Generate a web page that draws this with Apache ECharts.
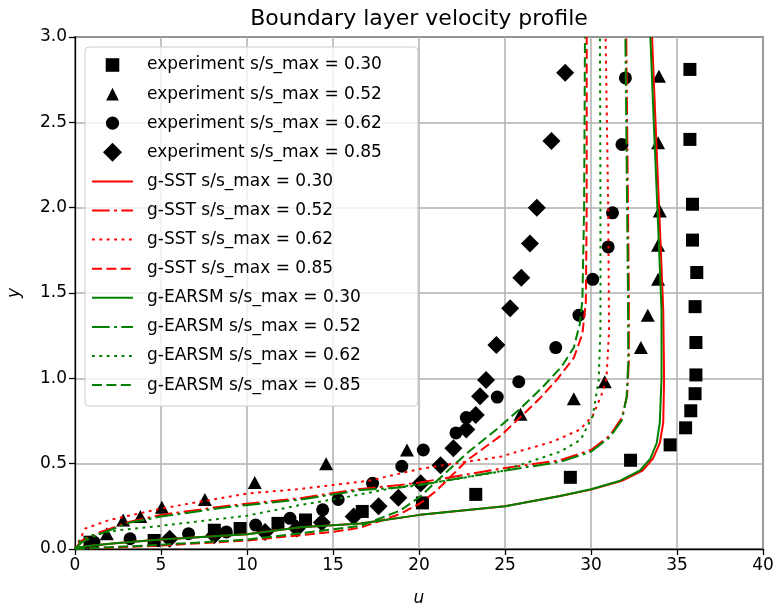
<!DOCTYPE html>
<html>
<head>
<meta charset="utf-8">
<script src="https://cdn.jsdelivr.net/npm/echarts@6/dist/echarts.min.js"></script>
<style>
  html, body { margin: 0; padding: 0; background: #fff; }
  #chart { width: 776px; height: 608px; }
</style>
</head>
<body>
<div id="chart"></div>
<script>
// Axis ticks
const xTicks = [0, 5, 10, 15, 20, 25, 30, 35, 40];
const yTicks = [0.0, 0.5, 1.0, 1.5, 2.0, 2.5, 3.0];

// Measured profiles, [u, y]
const exp030 = [[0.87,0.04],[4.6,0.05],[8.1,0.11],[9.6,0.12],[11.8,0.15],[13.4,0.17],[16.7,0.22],[20.2,0.27],[23.3,0.32],[28.8,0.42],[32.3,0.52],[34.6,0.61],[35.5,0.71],[35.8,0.81],[36.05,0.91],[36.1,1.02],[36.1,1.21],[36.05,1.42],[36.15,1.62],[35.9,1.81],[35.9,2.02],[35.75,2.40],[35.75,2.81]];
const exp052 = [[1.85,0.09],[2.8,0.17],[3.8,0.19],[5.05,0.245],[7.55,0.29],[10.45,0.39],[14.6,0.50],[19.3,0.58],[25.9,0.79],[29.0,0.88],[30.8,0.98],[32.9,1.18],[33.3,1.37],[33.9,1.58],[33.9,1.78],[34.0,1.98],[33.9,2.38],[33.95,2.77]];
const exp062 = [[1.1,0.04],[3.2,0.06],[6.6,0.09],[8.8,0.10],[10.5,0.14],[12.5,0.18],[14.4,0.23],[15.3,0.29],[17.3,0.385],[19.0,0.485],[20.25,0.58],[22.15,0.68],[22.75,0.77],[24.55,0.89],[25.8,0.98],[27.95,1.18],[29.3,1.37],[30.1,1.58],[31.0,1.77],[31.25,1.97],[31.8,2.37],[32.0,2.76]];
const exp085 = [[5.5,0.06],[8.1,0.08],[11.05,0.10],[12.9,0.12],[14.35,0.155],[16.2,0.19],[17.65,0.25],[18.8,0.30],[20.1,0.385],[21.25,0.49],[22.0,0.59],[22.75,0.70],[23.3,0.785],[23.55,0.895],[23.9,0.99],[24.5,1.195],[25.3,1.41],[25.95,1.59],[26.45,1.79],[26.85,2.0],[27.7,2.39],[28.5,2.79]];

// g-SST model profiles, [u, y]
const sst030 = [[0,0],[0.3,0.01],[1,0.02],[2.5,0.035],[5,0.055],[10,0.087],[13.1,0.128],[16.6,0.15],[20.06,0.2],[25.0,0.25],[28.2,0.31],[30.0,0.348],[31.8,0.40],[33.0,0.46],[33.6,0.53],[34.0,0.62],[34.2,0.74],[34.25,1.0],[34.2,1.4],[34.0,1.9],[33.75,2.5],[33.55,3.0]];
const sst052 = [[0,0],[0.4,0.05],[1.5,0.1],[3.2,0.16],[5,0.2],[8.8,0.252],[13.1,0.298],[16.6,0.352],[18.9,0.375],[20.06,0.39],[24.7,0.47],[28.2,0.52],[30.0,0.58],[31.1,0.665],[31.8,0.77],[32.1,0.9],[32.2,1.1],[32.2,1.5],[32.15,2.0],[32.1,2.5],[32.05,3.0]];
const sst062 = [[0,0],[0.3,0.06],[0.6,0.12],[2,0.17],[5,0.237],[10,0.325],[13.1,0.352],[17.1,0.40],[19,0.445],[20.1,0.47],[22,0.50],[24.7,0.54],[27.8,0.63],[29.36,0.70],[30.1,0.78],[30.6,0.90],[30.9,1.0],[31.05,1.28],[31.0,2.0],[30.85,3.0]];
const sst085 = [[0,0],[2,0.008],[5,0.02],[10,0.05],[15,0.1],[16.6,0.125],[18.9,0.205],[20.06,0.267],[21.0,0.34],[21.8,0.42],[22.8,0.52],[24.7,0.66],[25.87,0.77],[27.0,0.88],[28.0,0.99],[29.0,1.12],[29.5,1.26],[29.7,1.45],[29.75,2.0],[29.75,3.0]];

// g-EARSM model profiles, [u, y]
const earsm030 = [[0,0],[0.3,0.01],[1,0.02],[2.5,0.035],[5,0.055],[10,0.087],[13.1,0.128],[16.6,0.15],[20.06,0.2],[25.0,0.25],[28.2,0.31],[30.0,0.35],[31.7,0.40],[32.85,0.46],[33.45,0.53],[33.82,0.62],[34.0,0.74],[34.1,1.0],[34.1,1.4],[33.9,1.9],[33.65,2.5],[33.45,3.0]];
const earsm052 = [[0,0],[0.4,0.04],[1.5,0.09],[3.2,0.155],[5,0.19],[8.8,0.245],[13.1,0.29],[16.6,0.345],[18.9,0.36],[20.06,0.375],[24.7,0.455],[28.2,0.51],[30.0,0.57],[31.1,0.655],[31.8,0.755],[32.07,0.89],[32.17,1.1],[32.15,1.5],[32.1,2.0],[32.05,2.5],[32.0,3.0]];
const earsm062 = [[0,0],[0.3,0.05],[1,0.08],[2.5,0.11],[4.9,0.135],[10,0.195],[13.1,0.258],[15.4,0.297],[18.9,0.365],[21.2,0.394],[24.7,0.453],[28.2,0.57],[29.4,0.64],[30.1,0.78],[30.45,0.99],[30.55,1.3],[30.55,2.0],[30.52,3.0]];
const earsm085 = [[0,0],[2,0.01],[5,0.025],[10,0.055],[15,0.115],[16.6,0.135],[18.9,0.225],[20.06,0.306],[21.0,0.395],[22.77,0.56],[24.5,0.70],[25.87,0.82],[27.2,0.95],[28.3,1.07],[29.0,1.18],[29.35,1.32],[29.5,1.46],[29.6,2.0],[29.65,3.0]];

const FONT = 'DejaVu Sans';
const RED = '#ff0000';
const GREEN = '#008000';
// dash patterns (px)
const DASHED = [10, 4.4];
const DASHDOT = [17.7, 4.4, 2.8, 4.4];
const DOTTED = [2.8, 4.6];

// Legend marker outlines; the leading move-to points pad the bounding box
// so the shapes keep their relative sizes inside a 19px-high icon cell.
const ICON_SQUARE = 'path://M-0.2,-0.2M1.2,1.2M0,0L1,0L1,1L0,1Z';
const ICON_TRIANGLE = 'path://M-0.25,-0.25M1.25,1.25M0.5,0L1,1L0,1Z';
const ICON_CIRCLE = 'path://M-0.22,-0.22M1.22,1.22M0.5,0A0.5,0.5,0,1,1,0.5,1A0.5,0.5,0,1,1,0.5,0Z';
const ICON_DIAMOND = 'path://M0.5,0L1,0.5L0.5,1L0,0.5Z';

function scatter(name, data, symbol, size) {
  return {
    name, type: 'scatter', data, symbol, symbolSize: size,
    itemStyle: { color: '#000', opacity: 1 }, z: 2, silent: true
  };
}
function line(name, data, color, dash, z) {
  return {
    name, type: 'line', data, showSymbol: false, symbol: 'none',
    lineStyle: { color, width: 2, type: dash },
    itemStyle: { color }, z, silent: true, animation: false
  };
}

const series = [
  scatter('experiment s/s_max = 0.30', exp030, 'rect', 13),
  scatter('experiment s/s_max = 0.52', exp052, 'triangle', [14, 13]),
  scatter('experiment s/s_max = 0.62', exp062, 'circle', 13),
  scatter('experiment s/s_max = 0.85', exp085, 'diamond', [18, 18]),
  line('g-SST s/s_max = 0.30', sst030, RED, 'solid', 3),
  line('g-SST s/s_max = 0.52', sst052, RED, DASHDOT, 3),
  line('g-SST s/s_max = 0.62', sst062, RED, DOTTED, 3),
  line('g-SST s/s_max = 0.85', sst085, RED, DASHED, 3),
  line('g-EARSM s/s_max = 0.30', earsm030, GREEN, 'solid', 4),
  line('g-EARSM s/s_max = 0.52', earsm052, GREEN, DASHDOT, 4),
  line('g-EARSM s/s_max = 0.62', earsm062, GREEN, DOTTED, 4),
  line('g-EARSM s/s_max = 0.85', earsm085, GREEN, DASHED, 4)
];

const markerIcons = [ICON_SQUARE, ICON_TRIANGLE, ICON_CIRCLE, ICON_DIAMOND];
const legendData = series.map((s, i) => {
  if (s.type === 'scatter') {
    return { name: s.name, icon: markerIcons[i], itemStyle: { color: '#000', opacity: 1 } };
  }
  // line entries: show the stroke only, hide the default marker
  return { name: s.name, itemStyle: { opacity: 0 } };
});

const chart = echarts.init(document.getElementById('chart'), null, { renderer: 'canvas' });
chart.setOption({
  animation: false,
  backgroundColor: '#fff',
  title: {
    text: 'Boundary layer velocity profile',
    left: 419, top: 8, textAlign: 'center', padding: 0,
    textStyle: { fontFamily: FONT, fontSize: 22, fontWeight: 'normal', color: '#000' }
  },
  grid: {
    left: 75, right: 13, top: 37, bottom: 59,
    outerBoundsMode: 'none', containLabel: false,
    show: true, borderColor: '#000', borderWidth: 1.3, backgroundColor: 'transparent'
  },
  legend: {
    orient: 'vertical', left: 85, top: 47,
    data: legendData,
    symbolKeepAspect: true,
    itemWidth: 41, itemHeight: 19, itemGap: 10.1,
    padding: [8.5, 36, 11.5, 6],
    backgroundColor: 'rgba(255,255,255,0.8)',
    borderColor: '#cccccc', borderWidth: 1, borderRadius: 4,
    textStyle: { fontFamily: FONT, fontSize: 17, color: '#000', lineHeight: 19, padding: [0, 0, 0, 9] },
    selectedMode: false
  },
  xAxis: {
    type: 'value', min: 0, max: 40, interval: 5,
    name: 'u', nameLocation: 'middle', nameGap: 41,
    nameTextStyle: { fontFamily: FONT, fontSize: 17, fontStyle: 'italic', color: '#000' },
    axisLine: { show: true, onZero: false, lineStyle: { color: '#000', width: 1.3 } },
    axisTick: { show: true, inside: false, length: 6, lineStyle: { color: '#000', width: 1.3 } },
    axisLabel: { fontFamily: FONT, fontSize: 17, color: '#000', margin: 8,
      formatter: v => xTicks.includes(v) ? String(v) : '' },
    splitLine: { show: true, lineStyle: { color: '#b0b0b0', width: 1.5 } }
  },
  yAxis: {
    type: 'value', min: 0, max: 3, interval: 0.5,
    name: 'y', nameLocation: 'middle', nameGap: 52, nameRotate: 90,
    nameTextStyle: { fontFamily: FONT, fontSize: 17, fontStyle: 'italic', color: '#000' },
    axisLine: { show: true, onZero: false, lineStyle: { color: '#000', width: 1.3 } },
    axisTick: { show: true, inside: false, length: 6, lineStyle: { color: '#000', width: 1.3 } },
    axisLabel: { fontFamily: FONT, fontSize: 17, color: '#000', margin: 8,
      formatter: v => yTicks.some(t => Math.abs(t - v) < 1e-9) ? v.toFixed(1) : '' },
    splitLine: { show: true, lineStyle: { color: '#b0b0b0', width: 1.5 } }
  },
  series
});
</script>
</body>
</html>
